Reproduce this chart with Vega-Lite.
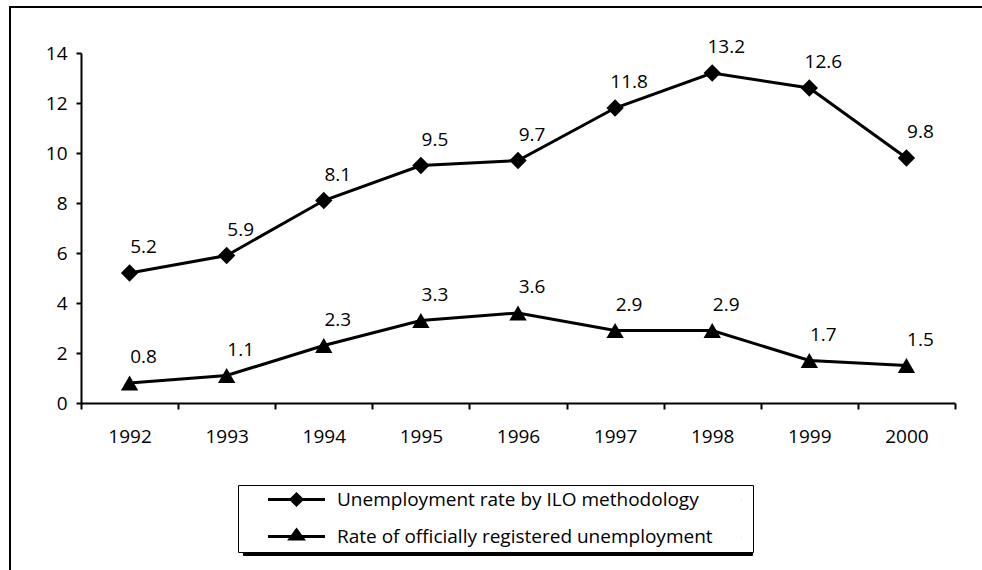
{
  "$schema": "https://vega.github.io/schema/vega-lite/v6.json",
  "width": 980,
  "height": 570,
  "autosize": {"type": "none"},
  "padding": {"left": 10, "top": 7, "right": -8, "bottom": -7},
  "background": "white",
  "config": {
    "view": {"stroke": "black", "strokeWidth": 2},
    "font": "Open Sans",
    "axis": {
      "domainColor": "black",
      "domainWidth": 2,
      "tickColor": "black",
      "tickWidth": 2,
      "labelColor": "black",
      "labelFontSize": 19,
      "labelFont": "Open Sans",
      "grid": false,
      "title": null
    }
  },
  "data": {
    "values": [
      {"year": "1992", "series": "Unemployment rate by ILO methodology", "value": 5.2},
      {"year": "1993", "series": "Unemployment rate by ILO methodology", "value": 5.9},
      {"year": "1994", "series": "Unemployment rate by ILO methodology", "value": 8.1},
      {"year": "1995", "series": "Unemployment rate by ILO methodology", "value": 9.5},
      {"year": "1996", "series": "Unemployment rate by ILO methodology", "value": 9.7},
      {"year": "1997", "series": "Unemployment rate by ILO methodology", "value": 11.8},
      {"year": "1998", "series": "Unemployment rate by ILO methodology", "value": 13.2},
      {"year": "1999", "series": "Unemployment rate by ILO methodology", "value": 12.6},
      {"year": "2000", "series": "Unemployment rate by ILO methodology", "value": 9.8},
      {"year": "1992", "series": "Rate of officially registered unemployment", "value": 0.8},
      {"year": "1993", "series": "Rate of officially registered unemployment", "value": 1.1},
      {"year": "1994", "series": "Rate of officially registered unemployment", "value": 2.3},
      {"year": "1995", "series": "Rate of officially registered unemployment", "value": 3.3},
      {"year": "1996", "series": "Rate of officially registered unemployment", "value": 3.6},
      {"year": "1997", "series": "Rate of officially registered unemployment", "value": 2.9},
      {"year": "1998", "series": "Rate of officially registered unemployment", "value": 2.9},
      {"year": "1999", "series": "Rate of officially registered unemployment", "value": 1.7},
      {"year": "2000", "series": "Rate of officially registered unemployment", "value": 1.5}
    ]
  },
  "transform": [{"calculate": "datum.series", "as": "series_key"}],
  "encoding": {
    "x": {
      "field": "year",
      "type": "ordinal",
      "bandPosition": 0.5,
      "scale": {"type": "band", "paddingInner": 0, "paddingOuter": 0, "range": [71, 945]},
      "axis": {"labelAngle": 0, "tickBand": "extent", "tickSize": 6, "labelPadding": 18, "offset": -174}
    },
    "y": {
      "field": "value",
      "type": "quantitative",
      "scale": {"domain": [0, 14], "nice": false, "range": [396, 46]},
      "axis": {"values": [0, 2, 4, 6, 8, 10, 12, 14], "tickSize": 5, "labelPadding": 9, "offset": -71}
    }
  },
  "layer": [
    {
      "mark": {"type": "line", "strokeWidth": 3},
      "encoding": {
        "color": {
          "field": "series",
          "type": "nominal",
          "sort": ["Unemployment rate by ILO methodology", "Rate of officially registered unemployment"],
          "scale": {"range": ["black", "black"]},
          "legend": {
            "title": null,
            "orient": "none",
            "zindex": 2,
            "legendX": 228,
            "legendY": 478,
            "direction": "vertical",
            "padding": 5,
            "strokeColor": "black",
            "fillColor": "white",
            "labelFontSize": 19,
            "labelFont": "Open Sans",
            "labelColor": "black",
            "labelLimit": 700,
            "labelOffset": 31,
            "symbolOffset": 44,
            "rowPadding": 13,
            "symbolSize": 100,
            "symbolStrokeWidth": 3,
            "symbolStrokeColor": "black",
            "symbolFillColor": "black",
            "encode": {
              "symbols": {
                "update": {
                  "shape": {"signal": "datum.value === 'Unemployment rate by ILO methodology' ? 'M-5.7,0H5.7M0,-1.1L1.1,0L0,1.1L-1.1,0ZM89,0h0.01' : 'M-5.7,0H5.7M0,-1.3L1.3,0.5L-1.3,0.5ZM89,0h0.01'"}
                }
              }
            }
          }
        }
      }
    },
    {
      "mark": {"type": "point", "filled": true, "opacity": 1, "size": 300, "color": "black"},
      "encoding": {
        "shape": {
          "field": "series_key",
          "type": "nominal",
          "sort": ["Unemployment rate by ILO methodology", "Rate of officially registered unemployment"],
          "scale": {"domain": ["Unemployment rate by ILO methodology", "Rate of officially registered unemployment"], "range": ["diamond", "triangle-up"]},
          "legend": {
            "title": null,
            "orient": "none",
            "zindex": 1,
            "legendX": 233,
            "legendY": 483,
            "direction": "vertical",
            "padding": 5,
            "strokeColor": "black",
            "fillColor": "black",
            "labelFontSize": 19,
            "labelFont": "Open Sans",
            "labelColor": "black",
            "labelLimit": 700,
            "labelOffset": 431,
            "symbolOffset": 44,
            "rowPadding": 13,
            "symbolSize": 100,
            "symbolStrokeWidth": 3,
            "symbolStrokeColor": "black",
            "symbolFillColor": "black",
            "labelExpr": "'.'"
          }
        }
      }
    },
    {
      "mark": {"type": "text", "dx": 14, "dy": -26, "fontSize": 19, "font": "Open Sans", "color": "black", "align": "center", "baseline": "middle"},
      "encoding": {
        "text": {"field": "value", "type": "quantitative", "format": ".1f"}
      }
    }
  ]
}
